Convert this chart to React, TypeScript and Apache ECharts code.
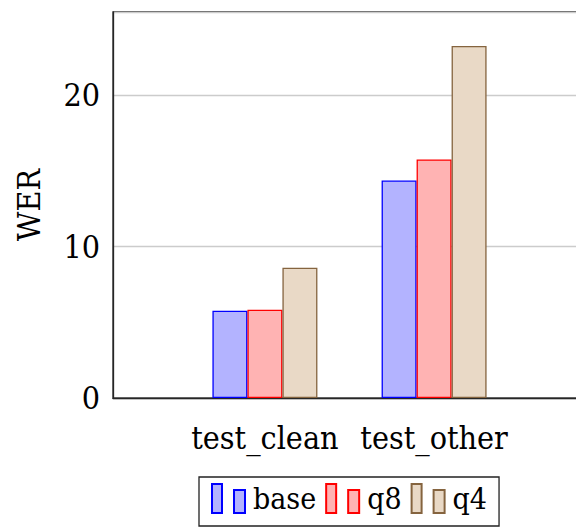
import React, { useEffect, useRef } from 'react';
import * as echarts from 'echarts';

const categories = ['test_clean', 'test_other'];
const seriesNames = ['base', 'q8', 'q4'];
const baseValues = [5.76, 14.37];
const q8Values = [5.83, 15.76];
const q4Values = [8.6, 23.26];
const yMax = 25.5;
const yInterval = 10;

const FONT = 'DejaVu Serif Condensed';
const FS = 32;
const LEGEND_FS = 30;

const fills = ['#b3b3ff', '#ffb3b3', '#e9d9c6'];
const borders = ['#0000ff', '#ff0000', '#85643f'];

const ICON = 'path://M0,0h10v29h-10z M22,6h11v23h-11z';

export default function App() {
  const ref = useRef<HTMLDivElement>(null);
  useEffect(() => {
    if (!ref.current) return;
    const chart = echarts.init(ref.current, undefined, { renderer: 'svg' });
    const valueSets = [baseValues, q8Values, q4Values];
    chart.setOption({
      animation: false,
      textStyle: { fontFamily: FONT },
      grid: {
        left: 113,
        top: 12,
        bottom: 131,
        right: 0,
        show: true,
        borderColor: '#262626',
        borderWidth: 1.3,
      },
      xAxis: {
        type: 'value',
        min: -0.898,
        max: 1.898,
        axisLine: { show: true, onZero: false, lineStyle: { color: '#262626', width: 1.3 } },
        axisTick: { show: false },
        splitLine: { show: false },
        axisLabel: {
          customValues: categories.map((_, i) => i),
          formatter: (v: number) => categories[Math.round(v)] ?? '',
          fontSize: FS,
          fontFamily: FONT,
          color: '#000',
          margin: 24,
        },
      },
      yAxis: {
        type: 'value',
        min: 0,
        max: yMax,
        interval: yInterval,
        name: 'WER',
        nameLocation: 'middle',
        nameGap: 68,
        nameRotate: 90,
        nameTextStyle: { fontSize: FS, fontFamily: FONT, color: '#000' },
        axisLine: { show: true, onZero: false, lineStyle: { color: '#262626', width: 1.3 } },
        axisTick: { show: false },
        splitLine: { show: true, lineStyle: { color: '#cccccc', width: 1.3 } },
        axisLabel: {
          showMaxLabel: false,
          fontSize: FS,
          fontFamily: FONT,
          color: '#000',
          margin: 13,
        },
      },
      legend: {
        left: 199,
        top: 477,
        orient: 'horizontal',
        itemWidth: 33,
        itemHeight: 29,
        itemGap: 9,
        padding: [6, 12, 12, 12],
        borderColor: '#222',
        borderWidth: 1.3,
        borderRadius: 0,
        selectedMode: false,
        data: seriesNames.map((n) => ({ name: n, icon: ICON })),
        formatter: '{t|{name}}',
        textStyle: {
          fontSize: LEGEND_FS,
          fontFamily: FONT,
          color: '#000',
          rich: {
            t: { padding: [0, 0, 0, 3], fontSize: LEGEND_FS, fontFamily: FONT, color: '#000', lineHeight: 32 },
          },
        },
      },
      series: seriesNames.map((n, si) => ({
        name: n,
        type: 'bar',
        barWidth: 35,
        barGap: '0%',
        data: valueSets[si].map((v, i) => [i, v]),
        itemStyle: { color: fills[si], borderColor: borders[si], borderWidth: 1.3 },
      })),
    });
    return () => chart.dispose();
  }, []);
  return (
    <div
      ref={ref}
      style={{ position: 'fixed', left: 0, top: 0, width: 586, height: 529, background: '#fff' }}
    />
  );
}
